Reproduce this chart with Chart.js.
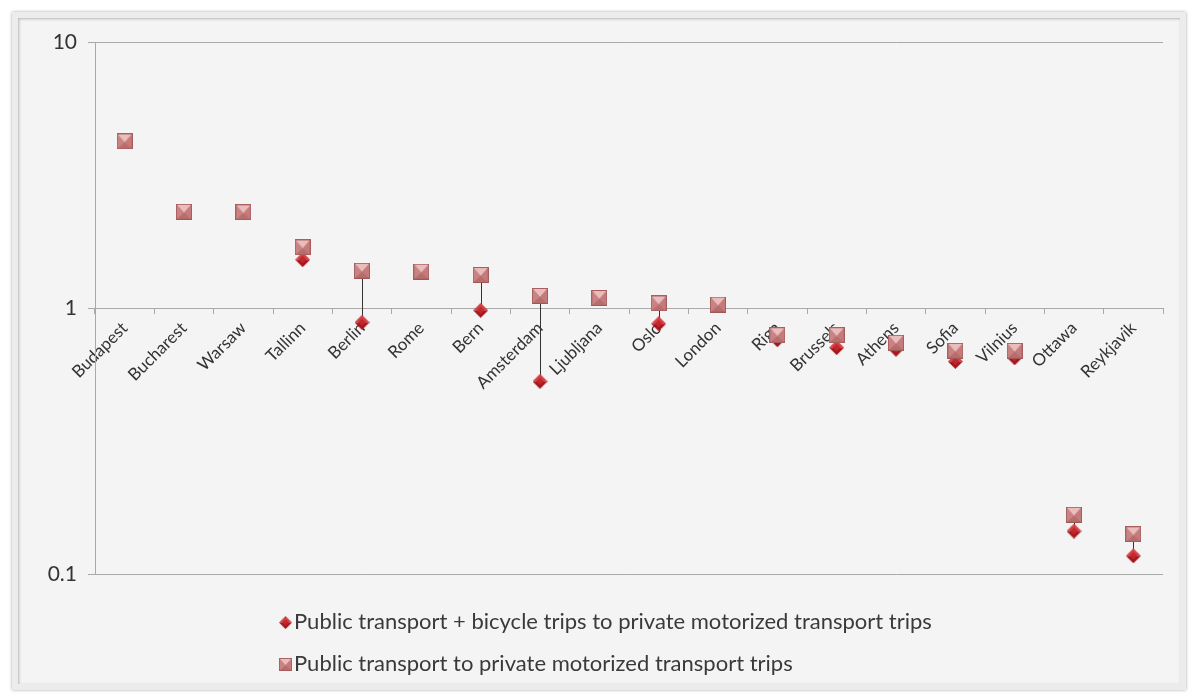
<!DOCTYPE html>
<html>
<head>
<meta charset="utf-8">
<script src="https://cdn.jsdelivr.net/npm/chart.js@4.4.1/dist/chart.umd.min.js"></script>
<style>
  html, body { margin: 0; padding: 0; background: #fff; }
  #frame {
    position: absolute; left: 12px; top: 12px; width: 1174px; height: 678px;
    box-sizing: border-box; border: 6px solid #ececec; background: #f4f4f4;
    box-shadow: 0 0 3px rgba(0,0,0,0.35), inset 1px 1px 3px rgba(0,0,0,0.25);
  }
  #wrap { position: absolute; left: 0; top: 0; width: 1162px; height: 666px; }
  #legend { position: absolute; left: 261px; top: 582px; font-family: Lato, sans-serif; font-size: 22px; color: #3a3a3a; }
  .item { height: 42px; line-height: 42px; white-space: nowrap; }
  .item canvas { vertical-align: middle; margin-right: 2px; position: relative; top: -1px; }
</style>
</head>
<body>
<div id="frame">
  <div id="wrap"><canvas id="chart" width="1162" height="666"></canvas></div>
  <div id="legend"></div>
</div>
<script>
// Data (log scale)
const cities = ['Budapest', 'Bucharest', 'Warsaw', 'Tallinn', 'Berlin', 'Rome', 'Bern', 'Amsterdam', 'Ljubljana',
  'Oslo', 'London', 'Riga', 'Brussels', 'Athens', 'Sofia', 'Vilnius', 'Ottawa', 'Reykjavik'];
const ptBikeRatio = [4.23, 2.30, 2.29, 1.52, 0.883, 1.37, 0.98, 0.53, 1.09, 0.873, 1.03, 0.76, 0.71, 0.70, 0.63, 0.65, 0.145, 0.117];
const ptRatio     = [4.23, 2.30, 2.29, 1.69, 1.38, 1.37, 1.33, 1.11, 1.09, 1.04, 1.03, 0.79, 0.79, 0.74, 0.69, 0.69, 0.167, 0.141];
const yTicks = [0.1, 1, 10];
const seriesNames = [
  'Public transport + bicycle trips to private motorized transport trips',
  'Public transport to private motorized transport trips'
];

// beveled marker images
function squareMarker(s) {
  const c = document.createElement('canvas'); c.width = s; c.height = s;
  const g = c.getContext('2d');
  const m = s / 2;
  g.fillStyle = '#c77e7e'; g.fillRect(0, 0, s, s);
  g.fillStyle = '#ebbcbc'; g.beginPath(); g.moveTo(1, 1); g.lineTo(s - 1, 1); g.lineTo(m, m + 1); g.fill();
  g.fillStyle = '#c98383'; g.beginPath(); g.moveTo(0, 0); g.lineTo(m, m + 1); g.lineTo(0, s); g.fill();
  g.fillStyle = '#c47b7b'; g.beginPath(); g.moveTo(s, 0); g.lineTo(m, m + 1); g.lineTo(s, s); g.fill();
  g.fillStyle = '#b86d6d'; g.beginPath(); g.moveTo(0, s); g.lineTo(m, m + 1); g.lineTo(s, s); g.fill();
  g.strokeStyle = 'rgba(140,70,70,0.55)'; g.lineWidth = 1; g.strokeRect(0.5, 0.5, s - 1, s - 1);
  return c;
}
function diamondMarker(s) {
  const c = document.createElement('canvas'); c.width = s; c.height = s;
  const g = c.getContext('2d');
  const m = s / 2;
  g.fillStyle = '#d64045'; g.beginPath(); g.moveTo(m, 0); g.lineTo(s, m); g.lineTo(0, m); g.fill();
  g.fillStyle = '#a5161c'; g.beginPath(); g.moveTo(0, m); g.lineTo(s, m); g.lineTo(m, s); g.fill();
  g.fillStyle = '#c0282d'; g.beginPath(); g.moveTo(m, m * 0.5); g.lineTo(m * 1.5, m); g.lineTo(m, m * 1.5); g.lineTo(m * 0.5, m); g.fill();
  return c;
}
const sqImg = squareMarker(16);
const dmImg = diamondMarker(15);

// thin black line joining the two values of one city
const connectors = {
  id: 'connectors',
  beforeDatasetsDraw(chart) {
    const a = chart.getDatasetMeta(0).data, b = chart.getDatasetMeta(1).data;
    const ctx = chart.ctx;
    ctx.save();
    ctx.strokeStyle = '#333'; ctx.lineWidth = 1;
    a.forEach((p, i) => {
      const x = Math.round(p.x) + 0.5;
      ctx.beginPath(); ctx.moveTo(x, p.y); ctx.lineTo(x, b[i].y); ctx.stroke();
    });
    ctx.restore();
  }
};

const gridColor = '#a9a9a9';

const chart = new Chart(document.getElementById('chart'), {
  type: 'line',
  data: {
    labels: cities,
    datasets: [
      { label: seriesNames[0], data: ptBikeRatio, showLine: false, pointStyle: dmImg, order: 1 },
      { label: seriesNames[1], data: ptRatio, showLine: false, pointStyle: sqImg, order: 0 }
    ]
  },
  options: {
    responsive: false,
    animation: false,
    layout: { padding: { left: 0, right: 17, top: 24, bottom: 110 } },
    plugins: { legend: { display: false }, tooltip: { enabled: false } },
    scales: {
      x: {
        type: 'category',
        position: { y: 1 },
        offset: true,
        grid: { offset: true, drawOnChartArea: false, drawTicks: true, tickLength: 5, color: gridColor },
        border: { display: true, color: gridColor },
        ticks: { autoSkip: false, minRotation: 45, maxRotation: 45, padding: 5, color: '#333',
          font: { family: 'Lato', size: 17 } }
      },
      y: {
        type: 'logarithmic',
        min: 0.1, max: 10,
        afterBuildTicks: axis => { axis.ticks = yTicks.map(v => ({ value: v })); },
        afterFit: axis => { axis.width = 77; },
        grid: { color: gridColor, tickLength: 7 },
        border: { display: true, color: gridColor },
        ticks: { padding: 11, color: '#333', font: { family: 'Lato', size: 21 },
          callback: v => String(v) }
      }
    }
  },
  plugins: [connectors]
});

// legend, left aligned like the original
const legend = document.getElementById('legend');
[dmImg, sqImg].forEach((img, i) => {
  const row = document.createElement('div'); row.className = 'item';
  const ic = document.createElement('canvas'); ic.width = 13; ic.height = 13;
  ic.getContext('2d').drawImage(img, 0, 0, 13, 13);
  row.appendChild(ic);
  row.appendChild(document.createTextNode(seriesNames[i]));
  legend.appendChild(row);
});
</script>
</body>
</html>
